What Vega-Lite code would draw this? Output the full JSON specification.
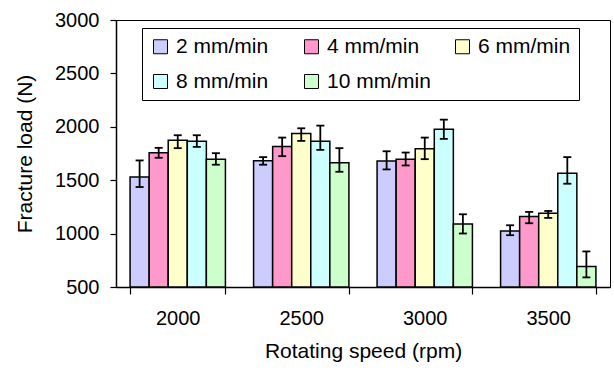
{
  "$schema": "https://vega.github.io/schema/vega-lite/v6.json",
  "width": 494,
  "height": 267,
  "autosize": "none",
  "padding": {"left": 116, "top": 20, "right": 4, "bottom": 84},
  "background": "white",
  "config": {
    "view": {"stroke": "black", "strokeWidth": 1},
    "font": "Liberation Sans",
    "axis": {
      "domainColor": "black",
      "domainWidth": 1.5,
      "tickColor": "black",
      "tickWidth": 1.2,
      "labelColor": "black",
      "titleColor": "black",
      "labelFont": "Liberation Sans",
      "titleFont": "Liberation Sans",
      "titleFontWeight": "normal",
      "grid": false
    }
  },
  "data": {
    "values": [
      {"speed": "2000", "feed": "2 mm/min", "load": 1530, "lo": 1436, "hi": 1685},
      {"speed": "2000", "feed": "4 mm/min", "load": 1756, "lo": 1710, "hi": 1803},
      {"speed": "2000", "feed": "6 mm/min", "load": 1874, "lo": 1800, "hi": 1921},
      {"speed": "2000", "feed": "8 mm/min", "load": 1865, "lo": 1812, "hi": 1921},
      {"speed": "2000", "feed": "10 mm/min", "load": 1697, "lo": 1645, "hi": 1753},
      {"speed": "2500", "feed": "2 mm/min", "load": 1682, "lo": 1645, "hi": 1716},
      {"speed": "2500", "feed": "4 mm/min", "load": 1815, "lo": 1725, "hi": 1899},
      {"speed": "2500", "feed": "6 mm/min", "load": 1937, "lo": 1868, "hi": 1986},
      {"speed": "2500", "feed": "8 mm/min", "load": 1865, "lo": 1784, "hi": 2011},
      {"speed": "2500", "feed": "10 mm/min", "load": 1663, "lo": 1579, "hi": 1800},
      {"speed": "3000", "feed": "2 mm/min", "load": 1679, "lo": 1601, "hi": 1771},
      {"speed": "3000", "feed": "4 mm/min", "load": 1697, "lo": 1638, "hi": 1759},
      {"speed": "3000", "feed": "6 mm/min", "load": 1794, "lo": 1697, "hi": 1899},
      {"speed": "3000", "feed": "8 mm/min", "load": 1977, "lo": 1887, "hi": 2067},
      {"speed": "3000", "feed": "10 mm/min", "load": 1091, "lo": 1001, "hi": 1181},
      {"speed": "3500", "feed": "2 mm/min", "load": 1025, "lo": 985, "hi": 1078},
      {"speed": "3500", "feed": "4 mm/min", "load": 1159, "lo": 1097, "hi": 1203},
      {"speed": "3500", "feed": "6 mm/min", "load": 1190, "lo": 1147, "hi": 1212},
      {"speed": "3500", "feed": "8 mm/min", "load": 1566, "lo": 1467, "hi": 1716},
      {"speed": "3500", "feed": "10 mm/min", "load": 693, "lo": 590, "hi": 833}
    ]
  },
  "encoding": {
    "x": {
      "field": "speed",
      "type": "nominal",
      "sort": ["2000", "2500", "3000", "3500"],
      "scale": {"paddingInner": 0.228, "paddingOuter": 0.114},
      "axis": {
        "title": "Rotating speed (rpm)",
        "labelAngle": 0,
        "tickBand": "extent",
        "tickSize": 7,
        "labelPadding": 14,
        "labelFontSize": 20,
        "titleFontSize": 21,
        "titlePadding": 12
      }
    },
    "xOffset": {
      "field": "feed",
      "type": "nominal",
      "sort": ["2 mm/min", "4 mm/min", "6 mm/min", "8 mm/min", "10 mm/min"],
      "scale": {"paddingInner": 0, "paddingOuter": 0}
    }
  },
  "layer": [
    {
      "mark": {"type": "bar", "stroke": "black", "strokeWidth": 1.5, "opacity": 1},
      "encoding": {
        "y": {
          "field": "load",
          "type": "quantitative",
          "scale": {"domain": [500, 3000], "zero": false, "nice": false},
          "axis": {
            "title": "Fracture load (N)",
            "values": [500, 1000, 1500, 2000, 2500, 3000],
            "format": "d",
            "tickSize": 6,
            "labelPadding": 11,
            "labelFontSize": 20,
            "titleFontSize": 21,
            "titlePadding": 19
          }
        },
        "y2": {"datum": 500},
        "color": {
          "field": "feed",
          "type": "nominal",
          "sort": ["2 mm/min", "4 mm/min", "6 mm/min", "8 mm/min", "10 mm/min"],
          "scale": {
            "domain": ["2 mm/min", "4 mm/min", "6 mm/min", "8 mm/min", "10 mm/min"],
            "range": ["#CCCCFF", "#FF99CC", "#FFFFCC", "#CCFFFF", "#CCFFCC"]
          },
          "legend": {
            "orient": "none",
            "legendX": 26,
            "legendY": 8,
            "columns": 3,
            "direction": "horizontal",
            "title": null,
            "symbolType": "square",
            "symbolSize": 196,
            "symbolStrokeColor": "black",
            "symbolStrokeWidth": 1,
            "symbolOpacity": 1,
            "labelFontSize": 21,
            "labelFont": "Liberation Sans",
            "labelColor": "black",
            "labelOffset": 5,
            "labelLimit": 300,
            "strokeColor": "black",
            "fillColor": "white",
            "padding": 8,
            "columnPadding": 21,
            "rowPadding": 13,
            "gridAlign": "all"
          }
        }
      }
    },
    {
      "mark": {"type": "rule", "color": "black", "strokeWidth": 1.8},
      "encoding": {
        "y": {"field": "lo", "type": "quantitative"},
        "y2": {"field": "hi"}
      }
    },
    {
      "mark": {"type": "tick", "color": "black", "thickness": 1.8, "size": 8, "opacity": 1},
      "encoding": {
        "y": {"field": "lo", "type": "quantitative"}
      }
    },
    {
      "mark": {"type": "tick", "color": "black", "thickness": 1.8, "size": 8, "opacity": 1},
      "encoding": {
        "y": {"field": "hi", "type": "quantitative"}
      }
    }
  ]
}
